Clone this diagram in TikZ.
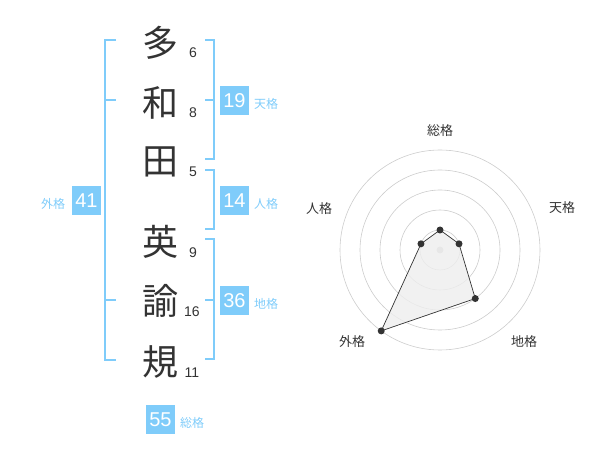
\documentclass[tikz,border=0pt]{standalone}
\usepackage{fontspec}
\usetikzlibrary{calc}
\setmainfont{Liberation Sans}
\newfontfamily\jp{Noto Sans CJK JP}
\definecolor{sky}{RGB}{127,204,250}
\definecolor{ink}{RGB}{51,51,51}
\definecolor{ringc}{RGB}{204,204,204}
\definecolor{areac}{RGB}{238,238,238}
\begin{document}
\begin{tikzpicture}[x=1pt,y=-1pt,
  kanji/.style={font=\jp\fontsize{36}{36}\selectfont, text=ink, inner sep=0},
  strokes/.style={font=\fontsize{14}{14}\selectfont, text=ink, inner sep=0},
  sumbox/.style={fill=sky, text=white, minimum size=29pt, inner sep=0, font=\fontsize{20}{20}\selectfont},
  kaku/.style={font=\jp\fontsize{12}{12}\selectfont, text=sky, inner sep=0},
  brk/.style={draw=sky, line width=2pt},
  ring/.style={draw=ringc, line width=0.6pt},
  rlabel/.style={font=\jp\fontsize{13}{13}\selectfont, text=ink, inner sep=0},
  vdot/.style={circle, fill=ink, inner sep=0, minimum size=7pt},
]
\useasboundingbox (0,0) rectangle (600,470);
% name characters
\node[kanji] (c1) at (160,43) {多};
\node[kanji] (c2) at (160,103) {和};
\node[kanji] (c3) at (160,162) {田};
\node[kanji] (c4) at (160,242) {英};
\node[kanji] (c5) at (160,301) {諭};
\node[kanji] (c6) at (160,362) {規};
% stroke counts
\node[strokes] (n1) at (193,53) {6};
\node[strokes] (n2) at (193,113) {8};
\node[strokes] (n3) at (193,172) {5};
\node[strokes] (n4) at (193,253) {9};
\node[strokes] (n5) at (192,312) {16};
\node[strokes] (n6) at (192,373) {11};
% brackets
\draw[brk] (116,40) -- (105,40) -- (105,360) -- (116,360);
\draw[brk] (105,100) -- (116,100);
\draw[brk] (105,300) -- (116,300);
\draw[brk] (205,40) -- (214,40) -- (214,159) -- (205,159);
\draw[brk] (214,100) -- (205,100);
\draw[brk] (205,170) -- (214,170) -- (214,229) -- (205,229);
\draw[brk] (205,239) -- (214,239) -- (214,359) -- (205,359);
\draw[brk] (214,300) -- (205,300);
% sums
\node[sumbox] (b19) at (234.5,100.5) {19};
\node[kaku] (k19) at (266,104) {天格};
\node[sumbox] (b14) at (234.5,200.5) {14};
\node[kaku] (k14) at (266,204) {人格};
\node[sumbox] (b36) at (234.5,300.5) {36};
\node[kaku] (k36) at (266,304) {地格};
\node[sumbox] (b41) at (86.5,200.5) {41};
\node[kaku] (k41) at (53,204) {外格};
\node[sumbox] (b55) at (160.5,419.5) {55};
\node[kaku] (k55) at (192,423) {総格};
% radar chart
\coordinate (O) at (440,250);
\foreach \r in {20,40,60,80,100} \draw[ring] (O) circle[radius=\r];
\node[circle, fill=ringc, inner sep=0, minimum size=7pt] (ctr) at (O) {};
\coordinate (p1) at ($(O)+(-90:20)$);
\coordinate (p2) at ($(O)+(-18:20)$);
\coordinate (p3) at ($(O)+(54:60)$);
\coordinate (p4) at ($(O)+(126:100)$);
\coordinate (p5) at ($(O)+(198:20)$);
\draw[fill=areac, fill opacity=0.8, draw=ink, line width=0.7pt] (p1) -- (p2) -- (p3) -- (p4) -- (p5) -- cycle;
\foreach \i in {1,...,5} \node[vdot] (d\i) at (p\i) {};
\node[rlabel] (l1) at (440,131) {総格};
\node[rlabel] (l2) at (562,208) {天格};
\node[rlabel] (l3) at (524,342) {地格};
\node[rlabel] (l4) at (352,342) {外格};
\node[rlabel] (l5) at (319,209) {人格};
\end{tikzpicture}
\end{document}
